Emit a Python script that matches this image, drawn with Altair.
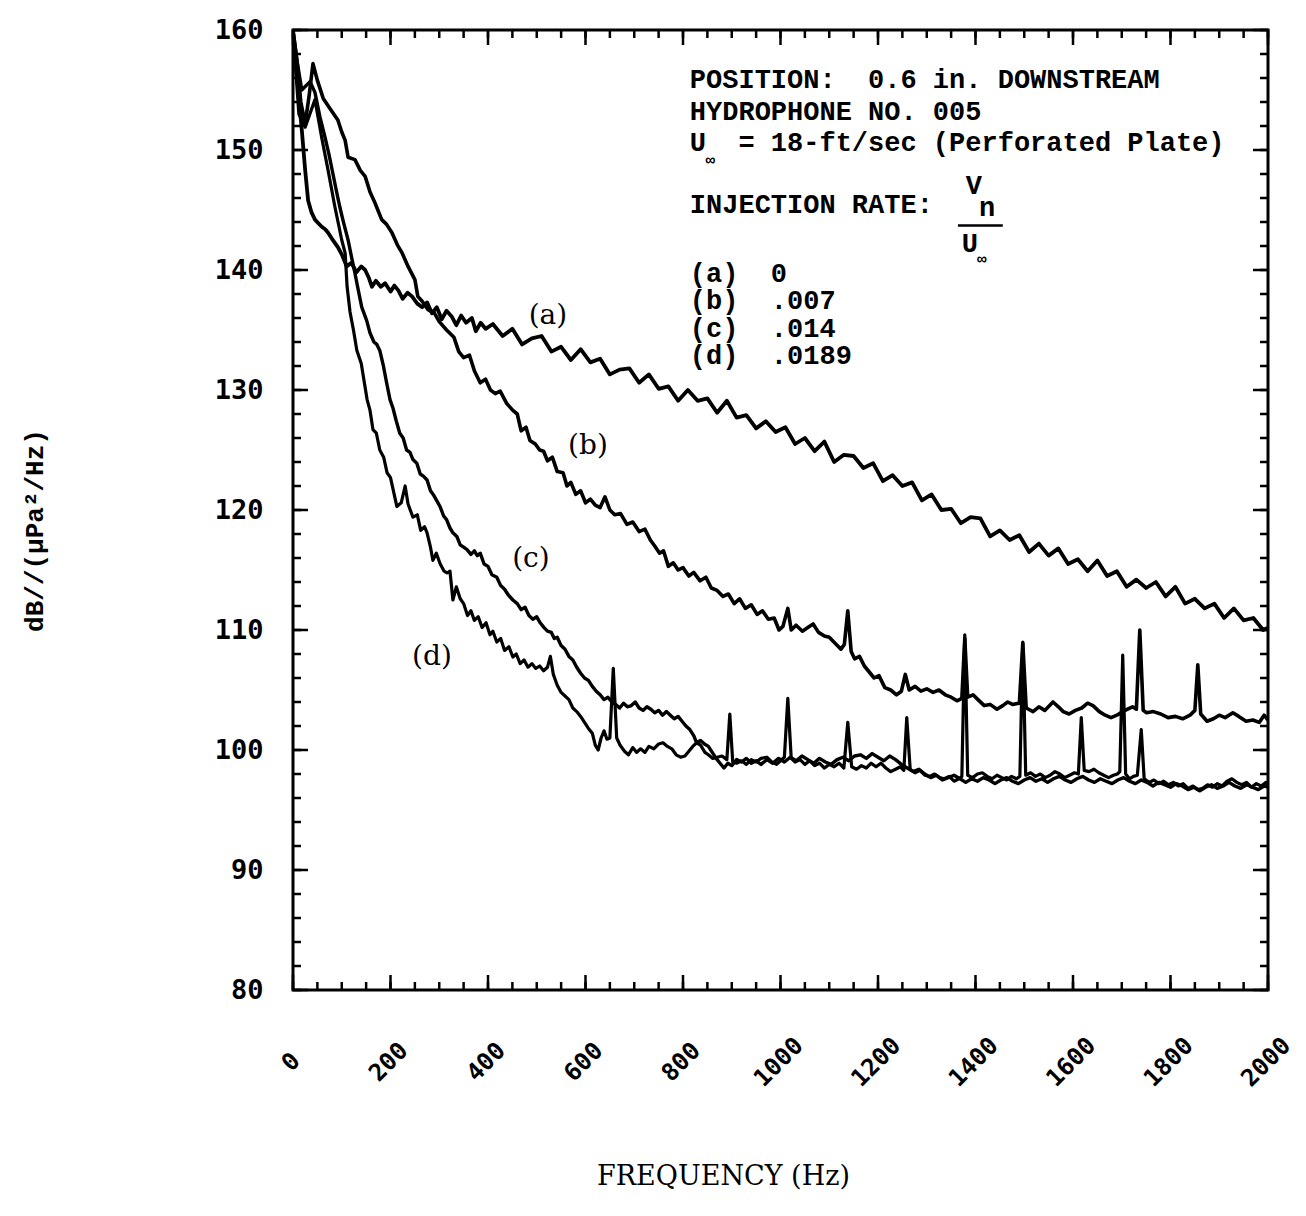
import altair as alt
import pandas as pd

# ---------------- data ----------------
SERIES = ["(a)", "(b)", "(c)", "(d)"]

A_HZ = [0, 5, 10, 18, 25, 31, 38, 45, 52, 59, 66, 72, 80, 92, 100, 110, 120, 130, 140, 148,
        155, 162, 170, 180, 189, 200, 208, 216, 225, 235, 244, 255, 265, 275, 285, 295, 305,
        315, 326, 335, 345, 355, 367, 375, 385, 395,
        410, 430, 450, 470, 490, 510, 530, 550, 570, 590, 610, 630, 650, 670, 690, 710, 730,
        750, 770, 790, 810, 830, 850, 870, 890, 910, 930, 950, 970, 990, 1010, 1030, 1050,
        1070, 1090, 1110, 1130, 1150, 1170, 1190, 1210, 1230, 1250, 1270, 1290, 1310, 1330,
        1350, 1370, 1390, 1410, 1430, 1450, 1470, 1490, 1510, 1530, 1550, 1570, 1590, 1610,
        1630, 1650, 1670, 1690, 1710, 1730, 1750, 1770, 1790, 1810, 1830, 1850, 1870, 1890,
        1910, 1930, 1950, 1970, 1990, 2000]
A_DB = [159.5, 157.5, 155.3, 151.7, 148.3, 145.8, 144.8, 144.2, 143.9, 143.6, 143.4, 143.1,
        142.6, 141.9, 141.3, 140.3, 140.6, 139.8, 140.3, 140.0, 139.4, 138.6, 139.1, 138.6,
        138.9, 138.2, 138.7, 138.3, 137.6, 138.1, 137.8, 137.2, 136.9, 137.3, 136.4, 136.9,
        135.9, 136.6, 136.1, 135.4, 136.2, 135.6, 136.0, 134.9, 135.6, 135.1,
        135.5, 134.5, 135.1, 133.8, 134.3, 134.5, 133.2, 133.6, 132.5, 133.4, 132.3, 132.6,
        131.3, 131.7, 131.8, 130.6, 131.3, 130.1, 130.3, 129.1, 130.0, 129.1, 129.3, 128.1,
        129.1, 127.7, 127.9, 126.8, 127.4, 126.5, 126.9, 125.5, 126.0, 124.9, 125.7, 124.0,
        124.6, 124.5, 123.5, 123.9, 122.4, 122.9, 122.0, 122.3, 120.8, 121.3, 120.0, 120.1,
        118.9, 119.4, 119.3, 117.8, 118.3, 117.5, 117.9, 116.5, 117.2, 116.2, 116.8, 115.5,
        115.9, 114.9, 115.8, 114.5, 114.9, 113.6, 114.2, 113.5, 114.0, 112.8, 113.6, 112.2,
        112.6, 111.8, 112.2, 111.0, 111.8, 110.8, 111.0, 110.0, 110.2]

B_HZ = [0, 8, 16, 25, 33, 41, 50, 62, 75, 92, 100, 107, 113, 127, 138, 148, 158, 168, 182,
        192, 203, 214, 224, 236, 250, 256, 265, 277, 290, 300, 315,
        330, 340, 350, 362, 372, 384, 395, 405, 415, 425, 438, 451, 460, 468, 478, 486, 497,
        506, 514, 522, 532, 542, 554, 562, 570, 580, 590, 600, 610, 620, 630, 640, 650, 660,
        672, 685, 697, 710, 722, 733, 742, 752, 760, 770, 780, 790, 800, 812, 822, 835, 847,
        858, 870, 882, 893, 905, 916, 928, 940, 952, 963, 975, 987, 997, 1005, 1015, 1022,
        1032, 1045, 1056, 1067, 1078, 1090, 1100, 1112, 1124, 1131, 1138, 1145, 1152, 1162,
        1172, 1182, 1192, 1202, 1214, 1226, 1238, 1248, 1256, 1264, 1276, 1288, 1300, 1313,
        1325, 1338, 1350, 1362, 1372, 1378, 1384, 1395, 1405, 1418, 1430, 1444, 1456, 1466,
        1476, 1490, 1497, 1504, 1518, 1530, 1542, 1559, 1570, 1580, 1592, 1605, 1618, 1630,
        1641, 1654, 1666, 1678, 1690, 1702, 1712, 1722, 1730, 1737, 1744, 1751, 1765, 1780,
        1795, 1810, 1825, 1840, 1850, 1856, 1862, 1875, 1888, 1900, 1912, 1928, 1940, 1955,
        1969, 1982, 1992, 2000]
B_DB = [160.0, 157.5, 154.0, 152.2, 154.5, 157.2, 155.8, 154.3, 153.5, 152.5, 151.5, 150.8,
        149.4, 149.2, 148.3, 147.8, 146.5, 145.6, 144.2, 143.8, 143.1, 142.1, 141.4, 140.3,
        139.2, 137.8, 137.4, 136.7, 136.4, 135.7, 135.0,
        134.4, 133.2, 132.7, 132.9, 131.6, 130.6, 130.9, 130.0, 129.7, 129.9, 128.9, 128.3,
        128.0, 126.6, 126.9, 125.8, 125.5, 125.0, 124.9, 124.1, 124.4, 123.2, 123.1, 122.0,
        122.3, 121.3, 121.6, 120.6, 120.9, 120.4, 120.2, 121.1, 120.0, 119.6, 119.7, 118.8,
        119.0, 118.2, 118.4, 117.5, 117.0, 116.4, 116.6, 115.3, 115.6, 115.0, 115.2, 114.5,
        114.8, 114.1, 114.4, 113.5, 113.3, 112.8, 113.0, 112.2, 112.6, 111.8, 112.1, 111.3,
        111.6, 110.9, 111.0, 110.0, 110.3, 111.8, 110.0, 110.4, 109.9, 110.2, 110.5, 109.8,
        109.5, 109.4, 108.9, 108.4, 108.8, 111.6, 108.2, 107.6, 107.8, 107.0, 106.5, 106.0,
        106.2, 105.2, 105.0, 104.6, 104.9, 106.3, 105.0, 105.3, 104.9, 105.1, 104.8, 105.0,
        104.6, 104.4, 104.1, 104.3, 109.3, 104.4, 104.6, 104.2, 103.7, 103.8, 103.4, 103.7,
        104.0, 103.8, 103.9, 108.9, 103.5, 103.2, 103.6, 103.3, 104.0, 103.6, 103.2, 103.0,
        103.3, 103.5, 103.9, 103.7, 103.2, 102.9, 102.7, 102.9, 103.2, 103.4, 103.6, 103.4,
        110.0, 103.3, 103.1, 103.2, 103.0, 102.7, 102.8, 102.6, 102.9, 103.3, 107.1, 103.0,
        102.4, 102.6, 102.9, 102.7, 103.1, 102.8, 102.4, 102.5, 102.3, 102.9, 102.5]

C_HZ = [0, 8, 18, 35, 45, 55, 66, 74, 82, 89, 96, 104, 113, 120, 127, 134, 141, 151, 158,
        166, 172, 178, 185, 192, 199, 205, 212, 219, 226, 233, 240, 246, 254, 261, 268, 275,
        282, 289, 296, 302, 309, 315, 322, 328, 336, 343, 350, 357, 365, 372, 378, 384, 392,
        400, 408, 418, 426, 434, 442, 451, 460, 468, 476, 484, 492, 500, 507, 515, 522, 530,
        536, 542, 550, 558, 566, 574, 582, 590, 598, 606, 614, 622, 630, 638, 646, 654, 662,
        670, 678, 686, 694, 702, 710, 718, 726, 734, 742, 750, 758, 766, 774, 782, 790, 798,
        806, 814, 822, 828, 836, 844, 852, 860, 868, 876, 884, 892, 900, 910, 920, 930, 940,
        950, 960, 972, 984, 996, 1008, 1020, 1032, 1044, 1056, 1068, 1080, 1092, 1104, 1116,
        1128, 1140, 1152, 1164, 1176, 1188, 1200, 1212, 1224, 1236, 1248, 1260, 1272, 1284,
        1296, 1308, 1320, 1332, 1344, 1356, 1368, 1380, 1392, 1404, 1416, 1428, 1440, 1452,
        1464, 1476, 1488, 1500, 1512, 1524, 1536, 1548, 1560, 1572, 1584, 1596, 1608, 1620,
        1632, 1644, 1656, 1668, 1680, 1692, 1704, 1716, 1728, 1740, 1752, 1764, 1776, 1788,
        1800, 1812, 1824, 1836, 1848, 1860, 1872, 1884, 1896, 1908, 1920, 1932, 1944, 1956,
        1968, 1980, 1992, 2000]
C_DB = [160.0, 157.5, 155.0, 155.7, 154.8, 152.8, 151.0, 149.6, 148.0, 146.6, 145.25, 143.9,
        142.5, 141.1, 139.75, 138.3, 136.9, 135.8, 134.75, 134.0, 133.8, 133.3, 132.1, 130.6,
        129.2, 128.5, 127.4, 126.4, 126.0, 125.0, 124.8, 124.2, 123.9, 123.0, 122.8, 122.5,
        121.6, 121.2, 120.7, 120.25, 119.5, 119.2, 118.5, 118.1, 117.8, 117.1, 116.9, 116.7,
        116.3, 116.6, 116.2, 116.4, 115.5, 115.3, 114.6, 114.4, 113.7, 113.4, 112.9, 112.5,
        112.2, 111.7, 111.9, 111.2, 110.9, 111.1, 110.6, 110.2, 109.9, 109.8, 109.3, 109.4,
        108.7, 108.4, 107.8, 107.5, 106.9, 106.4, 106.0, 105.8, 105.3, 104.9, 104.6, 104.2,
        104.4, 104.0, 103.8, 103.5, 103.9, 103.6, 103.7, 104.0, 103.5, 103.3, 103.6, 103.4,
        103.1, 103.3, 102.9, 103.2, 102.9, 102.6, 102.8, 102.4, 102.0, 101.7, 101.2, 100.6,
        100.8, 100.5, 100.3, 99.8, 99.3, 98.9, 98.5, 98.9, 98.7, 99.2, 99.0, 99.3, 98.9, 99.1,
        98.8, 99.2, 98.9, 99.3, 99.0, 99.4, 99.1, 99.5, 99.2, 98.9, 99.3, 99.0, 98.8, 99.2,
        99.4, 99.1, 99.5, 99.6, 99.3, 99.7, 99.4, 99.1, 99.5, 99.2, 98.8, 98.5, 98.2, 98.4,
        98.0, 97.7, 97.9, 97.5, 97.7, 97.9, 97.6, 97.3, 97.6, 97.4, 97.7, 97.5, 97.2, 97.5,
        97.7, 97.4, 97.2, 97.5, 97.7, 97.4, 97.6, 97.3, 97.6, 97.8, 97.5, 97.3, 97.6, 97.8,
        97.5, 97.3, 97.6, 97.4, 97.2, 97.5, 97.7, 97.4, 97.2, 97.5, 97.3, 97.0, 97.3, 97.1,
        96.9, 97.2, 97.0, 96.7, 96.9, 96.6, 96.9, 97.1, 96.8, 97.0, 97.3, 97.0, 96.8, 97.1,
        96.9, 96.7, 97.0, 96.9]

D_HZ = [0, 12, 25, 45, 59, 72, 86, 100, 107, 111, 117, 124, 131, 140, 152, 158, 164, 171,
        178, 186, 193, 200, 207, 213, 222, 230, 236, 246, 255, 262, 270, 275, 282, 287, 294,
        302, 310, 316, 322, 328, 335, 343, 350, 358, 365, 372, 380, 388, 396, 404, 410, 418,
        426, 434, 443, 451, 458, 466, 474, 482, 490, 498, 506, 514, 522, 528, 534, 542, 550,
        558, 566, 574, 582, 590, 598, 606, 614, 620, 626, 632, 638, 644, 650, 657, 664, 671,
        680, 688, 697, 705, 713, 722, 730, 740, 750, 759, 768, 777, 786, 795, 804, 812, 820,
        828, 836, 845, 852, 861, 870, 880, 890, 896, 902, 910, 920, 930, 940, 950, 960, 972,
        982, 992, 1000, 1008, 1015, 1022, 1030, 1040, 1050, 1060, 1070, 1080, 1090, 1100, 1110,
        1120, 1130, 1138, 1146, 1156, 1166, 1176, 1186, 1196, 1206, 1216, 1226, 1236, 1246,
        1253, 1259, 1266, 1276, 1286, 1296, 1306, 1316, 1326, 1336, 1346, 1356, 1366, 1372,
        1378, 1384, 1394, 1404, 1414, 1424, 1434, 1444, 1454, 1464, 1474, 1484, 1491, 1497,
        1503, 1513, 1523, 1533, 1543, 1553, 1563, 1573, 1583, 1593, 1603, 1611, 1617, 1623,
        1633, 1643, 1653, 1663, 1673, 1683, 1691, 1696, 1702, 1708, 1716, 1724, 1732, 1740,
        1746, 1756, 1766, 1776, 1786, 1796, 1806, 1816, 1826, 1836, 1846, 1856, 1866, 1876,
        1886, 1896, 1906, 1916, 1926, 1936, 1946, 1956, 1966, 1976, 1986, 1996, 2000]
D_DB = [160.0, 153.0, 151.9, 154.2, 151.0, 148.3, 145.25, 142.5, 141.4, 138.6, 136.5, 135.0,
        133.3, 132.2, 129.2, 128.3, 126.7, 126.4, 125.0, 124.4, 123.1, 122.7, 121.4, 120.3,
        120.6, 122.0, 120.5, 119.4, 119.6, 118.3, 118.6, 118.1, 116.9, 115.8, 116.4, 115.5,
        114.9, 114.75, 114.9, 112.5, 113.6, 112.6, 112.2, 111.2, 111.6, 110.8, 111.1, 110.2,
        110.6, 109.6, 109.9, 109.0, 109.3, 108.3, 108.6, 107.75, 108.0, 107.2, 107.5, 106.9,
        107.2, 106.8, 107.0, 106.6, 106.9, 107.8, 106.3, 105.4, 104.8, 104.5, 104.2, 103.5,
        103.2, 102.8, 102.3, 101.8, 101.4, 100.4, 100.0, 101.0, 101.6, 100.9, 101.0, 106.8,
        101.0, 100.4, 99.9, 99.6, 100.2, 99.8, 100.1, 99.8, 100.3, 100.1, 100.5, 100.6, 100.3,
        100.1, 99.6, 99.4, 99.5, 99.9, 100.3, 100.6, 100.4, 99.8, 99.6, 99.3, 99.4, 99.5, 99.2,
        103.0, 99.0, 98.9, 99.1, 98.8, 99.2, 99.0, 99.3, 99.4, 99.0, 98.8, 99.1, 99.4, 104.3,
        99.3, 99.0, 99.2, 98.8, 99.1, 98.7, 98.9, 98.5, 98.8, 98.6, 98.9, 98.5, 102.3, 98.6,
        98.4, 98.7, 98.5, 98.9, 98.6, 98.9, 98.5, 98.2, 98.4, 98.6, 98.3, 102.7, 98.4, 98.1,
        98.3, 97.9, 97.8, 98.0, 97.7, 97.6, 97.8, 97.4, 97.6, 97.8, 109.6, 97.9, 97.7, 98.0,
        98.1, 97.8, 97.6, 97.9, 97.7, 97.5, 97.8, 97.6, 97.8, 109.0, 97.9, 98.1, 97.8, 98.0,
        97.7, 97.9, 98.2, 98.0, 97.7, 97.9, 98.1, 98.0, 102.7, 98.3, 98.2, 98.4, 98.1, 97.9,
        97.7, 97.9, 98.0, 98.2, 107.9, 98.0, 97.6, 97.8, 97.9, 101.7, 97.6, 97.3, 97.5, 97.2,
        97.4, 97.1, 97.3, 97.0, 97.2, 96.8, 97.0, 96.7, 96.8, 97.1, 96.9, 97.2, 97.0, 97.4,
        97.6, 97.3, 97.1, 97.3, 96.9, 97.2, 97.0, 97.3, 97.1]

X_LABEL_VALUES = [0, 200, 400, 600, 800, 1000, 1200, 1400, 1600, 1800, 2000]
Y_LABEL_VALUES = [80, 90, 100, 110, 120, 130, 140, 150, 160]
X_MINOR = list(range(0, 2001, 50))
Y_MINOR = list(range(80, 161, 2))

rows = []
for name, hz, db in zip(SERIES, [A_HZ, B_HZ, C_HZ, D_HZ], [A_DB, B_DB, C_DB, D_DB]):
    assert len(hz) == len(db), name
    for f, v in zip(hz, db):
        rows.append({"series": name, "hz": f, "db": v})
df = pd.DataFrame(rows)

# ---------------- annotations ----------------
MONO = "Liberation Mono"
SERIF = "DejaVu Serif"
TICKFONT = "DejaVu Sans Mono"
NB = "\u00a0"

block = pd.DataFrame([
    {"t": "POSITION:" + NB + " 0.6 in. DOWNSTREAM", "hz": 814, "db": 155.8},
    {"t": "HYDROPHONE NO. 005", "hz": 814, "db": 153.2},
    {"t": "U" + NB + " = 18-ft/sec (Perforated Plate)", "hz": 814, "db": 150.6},
    {"t": "INJECTION RATE:", "hz": 814, "db": 145.4},
    {"t": "V", "hz": 1380, "db": 147.0},
    {"t": "n", "hz": 1407, "db": 145.2},
    {"t": "U", "hz": 1372, "db": 142.2},
    {"t": "(a)" + NB + " 0", "hz": 814, "db": 139.7},
    {"t": "(b)" + NB + " .007", "hz": 814, "db": 137.4},
    {"t": "(c)" + NB + " .014", "hz": 814, "db": 135.1},
    {"t": "(d)" + NB + " .0189", "hz": 814, "db": 132.8},
])
infty = pd.DataFrame([
    {"t": "\u221e", "hz": 846, "db": 149.2},
    {"t": "\u221e", "hz": 1403, "db": 140.9},
])
curve_labels = pd.DataFrame({"t": SERIES, "hz": [523, 605, 488, 285],
                             "db": [136.2, 125.3, 115.9, 107.75]})
frac_bar = pd.DataFrame({"hz": [1364], "hz2": [1456], "db": [143.7]})

xs = alt.Scale(domain=[0, 2000], nice=False, zero=False)
ys = alt.Scale(domain=[80, 160], nice=False, zero=False)

x_axis = alt.Axis(values=X_LABEL_VALUES, format="d", labelAngle=315, labelAlign="center",
                  labelBaseline="middle", labelPadding=72, labelOffset=-2, ticks=False,
                  tickSize=0, domain=False, grid=False, labelFont=TICKFONT, labelFontSize=24,
                  labelFontWeight="bold", labelColor="black", labelOverlap=False,
                  labelFlush=False, title="FREQUENCY (Hz)", titleFont=SERIF,
                  titleFontSize=27, titleFontWeight="normal", titleColor="black",
                  titleX=430, titleY=186, titleAlign="center", titleBaseline="middle")
y_axis = alt.Axis(values=Y_LABEL_VALUES, format="d", labelPadding=30, ticks=False, tickSize=0,
                  domain=False, grid=False, labelFont=TICKFONT, labelFontSize=27,
                  labelFontWeight="bold", labelColor="black", labelOverlap=False,
                  labelFlush=False, title="dB//(\u00b5Pa\u00b2/Hz)", titleFont=MONO,
                  titleFontSize=26, titleFontWeight="bold", titleColor="black",
                  titleX=-259, titleY=500, titleAngle=270, titleAlign="center",
                  titleBaseline="middle")

X = alt.X("hz:Q", scale=xs, axis=x_axis)
Y = alt.Y("db:Q", scale=ys, axis=y_axis)

lines = alt.Chart(df).mark_line(color="black", clip=True, strokeJoin="round").encode(
    x=X, y=Y,
    detail="series:N",
    order="hz:Q",
    strokeWidth=alt.StrokeWidth("series:N", scale=alt.Scale(domain=SERIES, range=[3.8, 3.2, 3.2, 3.2]),
                                legend=None),
)

labels = alt.Chart(curve_labels).mark_text(font=SERIF, fontSize=28, color="black",
                                           align="center", baseline="middle").encode(
    x=X, y=Y, text="t:N")

block_text = alt.Chart(block).mark_text(font=MONO, fontSize=27, fontWeight="bold", color="black",
                                        align="left", baseline="middle").encode(
    x=X, y=Y, text="t:N")

infty_text = alt.Chart(infty).mark_text(font=MONO, fontSize=16, fontWeight="bold", color="black",
                                        align="left", baseline="middle").encode(
    x=X, y=Y, text="t:N")

bar = alt.Chart(frac_bar).mark_rule(color="black", strokeWidth=2.5).encode(
    x=X, x2="hz2:Q", y=Y)

W, H = 975, 960
xminor = pd.DataFrame({"hz": X_MINOR})
xmajor = pd.DataFrame({"hz": X_LABEL_VALUES})
yminor = pd.DataFrame({"db": Y_MINOR})
ymajor = pd.DataFrame({"db": Y_LABEL_VALUES})


def xticks(data, length):
    base = alt.Chart(data).mark_rule(color="black", strokeWidth=2.5)
    bottom = base.encode(x=X, y=alt.value(H), y2=alt.value(H - length))
    top = base.encode(x=X, y=alt.value(0), y2=alt.value(length))
    return [bottom, top]


def yticks(data, length):
    base = alt.Chart(data).mark_rule(color="black", strokeWidth=2.5)
    left = base.encode(y=Y, x=alt.value(0), x2=alt.value(length))
    right = base.encode(y=Y, x=alt.value(W), x2=alt.value(W - length))
    return [left, right]


tick_layers = xticks(xminor, 8) + xticks(xmajor, 15) + yticks(yminor, 8) + yticks(ymajor, 15)

chart = alt.layer(lines, *tick_layers, labels, block_text, infty_text, bar).properties(
    width=W, height=H,
    autosize=alt.AutoSizeParams(type="none"),
    padding={"left": 285, "top": 22, "right": 30, "bottom": 218},
    background="white",
).configure_view(stroke="black", strokeWidth=3)

chart.save("out.html", embed_options={"renderer": "svg", "actions": False})
